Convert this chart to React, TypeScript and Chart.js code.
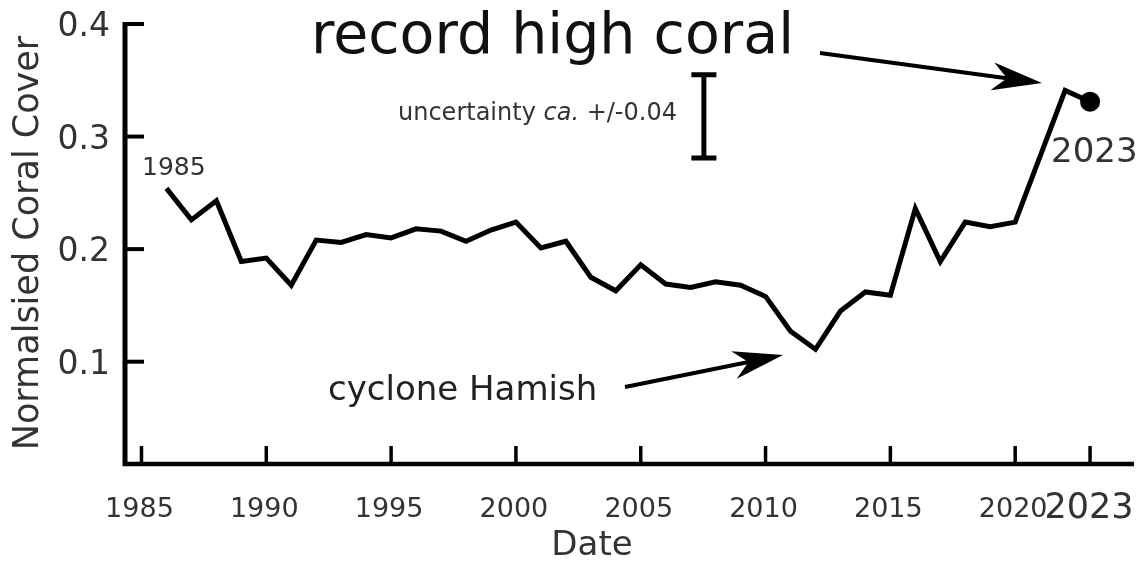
import { useEffect, useRef } from "react";
import { Chart, registerables } from "chart.js";

Chart.register(...registerables);

// ---- data ----
const years = [
  1986, 1987, 1988, 1989, 1990, 1991, 1992, 1993, 1994, 1995, 1996, 1997, 1998, 1999,
  2000, 2001, 2002, 2003, 2004, 2005, 2006, 2007, 2008, 2009, 2010, 2011, 2012, 2013,
  2014, 2015, 2016, 2017, 2018, 2019, 2020, 2022, 2023,
];
const coralCover = [
  0.254, 0.226, 0.243, 0.189, 0.192, 0.168, 0.208, 0.206, 0.213, 0.21, 0.218, 0.216, 0.207, 0.217,
  0.224, 0.201, 0.207, 0.175, 0.163, 0.186, 0.169, 0.166, 0.171, 0.168, 0.158, 0.127, 0.111, 0.145,
  0.162, 0.159, 0.236, 0.189, 0.224, 0.22, 0.224, 0.341, 0.331,
];
const xTickValues = [1985, 1990, 1995, 2000, 2005, 2010, 2015, 2020, 2023];
const xTickLabels = ["1985", "1990", "1995", "2000", "2005", "2010", "2015", "2020", "2023"];
const yTickValues = [0.1, 0.2, 0.3, 0.4];
const yTickLabels = ["0.1", "0.2", "0.3", "0.4"];
const uncertaintyYear = 2007.53;
const uncertaintyCentre = 0.318;
const uncertaintyHalf = 0.037;

const FONT = '"DejaVu Sans", Verdana, sans-serif';

function drawArrow(
  ctx: CanvasRenderingContext2D,
  x1: number,
  y1: number,
  x2: number,
  y2: number,
  L = 50,
  W = 14
) {
  const dx = x2 - x1;
  const dy = y2 - y1;
  const len = Math.hypot(dx, dy);
  const ux = dx / len;
  const uy = dy / len;
  const nx = -uy;
  const ny = ux;
  ctx.lineWidth = 4;
  ctx.lineCap = "butt";
  ctx.beginPath();
  ctx.moveTo(x1, y1);
  ctx.lineTo(x2 - ux * L * 0.6, y2 - uy * L * 0.6);
  ctx.stroke();
  ctx.beginPath();
  ctx.moveTo(x2, y2);
  ctx.lineTo(x2 - ux * L + nx * W, y2 - uy * L + ny * W);
  ctx.quadraticCurveTo(
    x2 - ux * L * 0.75 + nx * 2,
    y2 - uy * L * 0.75 + ny * 2,
    x2 - ux * L * 0.7,
    y2 - uy * L * 0.7
  );
  ctx.quadraticCurveTo(
    x2 - ux * L * 0.75 - nx * 2,
    y2 - uy * L * 0.75 - ny * 2,
    x2 - ux * L - nx * W,
    y2 - uy * L - ny * W
  );
  ctx.closePath();
  ctx.fill();
}

const decorPlugin = {
  id: "decor",
  afterDraw(chart: any) {
    const ctx: CanvasRenderingContext2D = chart.ctx;
    const { left, right, top, bottom } = chart.chartArea;
    const xs = chart.scales.x;
    const ys = chart.scales.y;
    ctx.save();
    ctx.strokeStyle = "#000";
    ctx.fillStyle = "#000";
    ctx.lineCap = "butt";

    // axes lines
    ctx.lineWidth = 5;
    ctx.beginPath();
    ctx.moveTo(left + 1, top - 2);
    ctx.lineTo(left + 1, bottom + 3);
    ctx.stroke();
    ctx.lineWidth = 4.5;
    ctx.beginPath();
    ctx.moveTo(left - 1, bottom + 1);
    ctx.lineTo(right, bottom + 1);
    ctx.stroke();

    // y ticks (inside)
    ctx.lineWidth = 4;
    yTickValues.forEach((v) => {
      const py = ys.getPixelForValue(v);
      ctx.beginPath();
      ctx.moveTo(left, py);
      ctx.lineTo(left + 20, py);
      ctx.stroke();
    });
    // x ticks (inside)
    ctx.lineWidth = 3.5;
    xTickValues.forEach((v) => {
      const px = xs.getPixelForValue(v);
      ctx.beginPath();
      ctx.moveTo(px, bottom);
      ctx.lineTo(px, bottom - 17);
      ctx.stroke();
    });

    // tick labels
    ctx.fillStyle = "#333";
    ctx.textBaseline = "alphabetic";
    ctx.textAlign = "right";
    ctx.font = `33px ${FONT}`;
    yTickValues.forEach((v, i) => {
      const py = ys.getPixelForValue(v);
      ctx.fillText(yTickLabels[i], 110, py + 12);
    });
    ctx.textAlign = "center";
    xTickValues.forEach((v, i) => {
      const px = xs.getPixelForValue(v);
      const big = i === xTickValues.length - 1;
      ctx.font = `${big ? 35 : 27}px ${FONT}`;
      ctx.fillText(xTickLabels[i], big ? px - 1 : px - 2, big ? 518 : 517);
    });

    // axis titles
    ctx.font = `34px ${FONT}`;
    ctx.fillText("Date", 592, 555);
    ctx.save();
    ctx.translate(38, 243);
    ctx.rotate(-Math.PI / 2);
    ctx.font = `35px ${FONT}`;
    ctx.fillText("Normalsied Coral Cover", 0, 0);
    ctx.restore();

    // annotations
    ctx.textAlign = "left";
    ctx.fillStyle = "#111";
    ctx.font = `57px ${FONT}`;
    ctx.fillText("record high coral", 311, 53);

    ctx.fillStyle = "#333";
    ctx.font = `24px ${FONT}`;
    let tx = 398;
    const p1 = "uncertainty ";
    ctx.fillText(p1, tx, 120);
    tx += ctx.measureText(p1).width;
    ctx.font = `italic 24px ${FONT}`;
    const p2 = "ca.";
    ctx.fillText(p2, tx, 120);
    tx += ctx.measureText(p2).width;
    ctx.font = `24px ${FONT}`;
    ctx.fillText(" +/-0.04", tx, 120);

    ctx.fillStyle = "#222";
    ctx.font = `34px ${FONT}`;
    ctx.fillText("cyclone Hamish", 328, 400);

    ctx.fillStyle = "#333";
    ctx.font = `25px ${FONT}`;
    ctx.fillText("1985", 142, 175);
    ctx.font = `34px ${FONT}`;
    ctx.fillText("2023", 1051, 162);

    // uncertainty bar
    const ex = xs.getPixelForValue(uncertaintyYear);
    const et = ys.getPixelForValue(uncertaintyCentre + uncertaintyHalf);
    const eb = ys.getPixelForValue(uncertaintyCentre - uncertaintyHalf);
    ctx.strokeStyle = "#000";
    ctx.fillStyle = "#000";
    ctx.lineWidth = 5;
    ctx.beginPath();
    ctx.moveTo(ex, et);
    ctx.lineTo(ex, eb);
    ctx.moveTo(ex - 12.5, et);
    ctx.lineTo(ex + 12.5, et);
    ctx.moveTo(ex - 12.5, eb);
    ctx.lineTo(ex + 12.5, eb);
    ctx.stroke();

    // arrows
    drawArrow(ctx, 625, 387, 783, 355);
    drawArrow(ctx, 820, 53, 1042, 83);

    ctx.restore();
  },
};

export default function App() {
  const ref = useRef<HTMLCanvasElement | null>(null);
  useEffect(() => {
    document.body.style.margin = "0";
    const canvas = ref.current;
    if (!canvas) return;
    const last = years.length - 1;
    const chart = new Chart(canvas, {
      type: "line",
      data: {
        datasets: [
          {
            data: years.map((yr, i) => ({ x: yr, y: coralCover[i] })),
            borderColor: "#000",
            borderWidth: 5,
            borderJoinStyle: "miter",
            borderCapStyle: "butt",
            tension: 0,
            fill: false,
            pointRadius: (c: any) => (c.dataIndex === last ? 10 : 0),
            pointHoverRadius: (c: any) => (c.dataIndex === last ? 10 : 0),
            pointBackgroundColor: "#000",
            pointBorderColor: "#000",
            pointBorderWidth: 0,
          } as any,
        ],
      },
      options: {
        responsive: false,
        maintainAspectRatio: false,
        animation: false,
        events: [],
        layout: { padding: { left: 124, top: 24, right: 11, bottom: 99 } },
        plugins: { legend: { display: false }, tooltip: { enabled: false } },
        scales: {
          x: { type: "linear", min: 1984.3, max: 2024.76, display: false },
          y: { type: "linear", min: 0.01, max: 0.4, display: false },
        },
      },
      plugins: [decorPlugin],
    });
    return () => chart.destroy();
  }, []);
  return (
    <div style={{ position: "absolute", left: 0, top: 0, width: 1145, height: 562, background: "#fff" }}>
      <canvas ref={ref} width={1145} height={562} style={{ display: "block", width: 1145, height: 562 }} />
    </div>
  );
}
